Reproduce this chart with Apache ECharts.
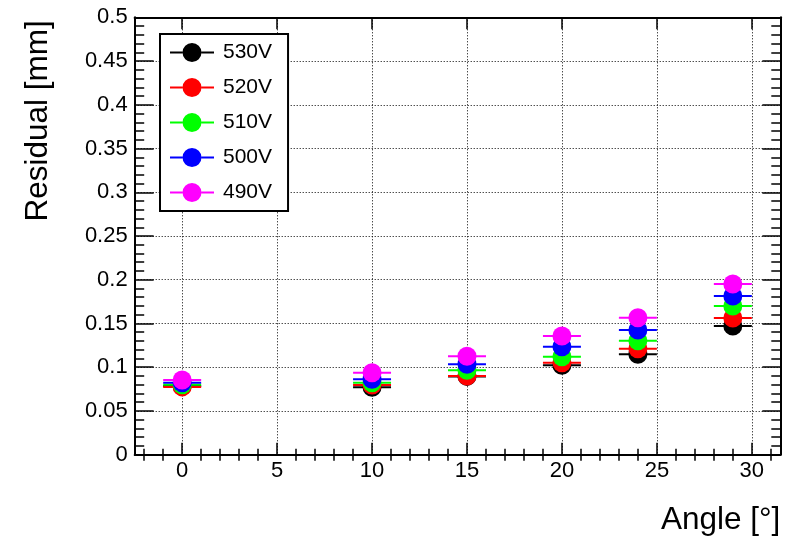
<!DOCTYPE html>
<html>
<head>
<meta charset="utf-8">
<script src="https://cdn.jsdelivr.net/npm/echarts@6/dist/echarts.min.js"></script>
<style>
html, body { margin: 0; padding: 0; background: #ffffff; }
#chart { width: 792px; height: 537px; }
</style>
</head>
<body>
<div id="chart"></div>
<script>
// Beam incidence angles [deg] and their half-width
const angles = [0, 10, 15, 20, 24, 29];
const angleErr = [1, 1, 1, 1, 1, 1];

// Residual [mm] for each drift voltage
const res530 = [0.0785, 0.0770, 0.0895, 0.1022, 0.1148, 0.1471];
const res520 = [0.0775, 0.0797, 0.0900, 0.1052, 0.1212, 0.1563];
const res510 = [0.0800, 0.0823, 0.0965, 0.1120, 0.1303, 0.1700];
const res500 = [0.0823, 0.0862, 0.1033, 0.1235, 0.1425, 0.1814];
const res490 = [0.0854, 0.0937, 0.1125, 0.1357, 0.1566, 0.1951];

const voltages = ['530V', '520V', '510V', '500V', '490V'];
const residuals = [res530, res520, res510, res500, res490];
const colors = ['#000000', '#ff0000', '#00ff00', '#0000ff', '#ff00ff'];

// Axis ticks
const xMajorTicks = [0, 5, 10, 15, 20, 25, 30];
const xMinorTicks = [-2, -1, 1, 2, 3, 4, 6, 7, 8, 9, 11, 12, 13, 14, 16, 17, 18, 19,
                     21, 22, 23, 24, 26, 27, 28, 29, 31];

const FONT = 'Liberation Sans';
const X_MIN = -2.5, X_MAX = 31.5;
const Y_MIN = 0, Y_MAX = 0.5, Y_STEP = 0.05;

// marker with horizontal error bar
function renderPoint(params, api) {
  const x = api.value(0), y = api.value(1), ex = api.value(2);
  const c = api.coord([x, y]);
  const l = api.coord([x - ex, y]);
  const r = api.coord([x + ex, y]);
  const color = api.visual('color');
  return {
    type: 'group',
    children: [
      { type: 'line', shape: { x1: l[0], y1: c[1], x2: r[0], y2: c[1] },
        style: { stroke: color, lineWidth: 2 } },
      { type: 'circle', shape: { cx: c[0], cy: c[1], r: 9.5 },
        style: { fill: color } }
    ]
  };
}

const series = voltages.map((name, k) => ({
  name: name,
  type: 'custom',
  xAxisIndex: 0,
  yAxisIndex: 0,
  itemStyle: { color: colors[k] },
  encode: { x: 0, y: 1 },
  renderItem: renderPoint,
  data: angles.map((a, i) => [a, residuals[k][i], angleErr[i]])
}));

const tickLine = { color: '#000', width: 1.5 };
const frameLine = { color: '#000', width: 2 };
const gridLine = { color: '#000', width: 1, type: [1, 2] };

const option = {
  animation: false,
  backgroundColor: '#ffffff',
  grid: { left: 134.7, right: 11.7, top: 17.3, bottom: 82.3, containLabel: false },
  legend: {
    orient: 'vertical',
    left: 160,
    top: 34,
    padding: [8, 16, 8, 10],
    itemGap: 14,
    itemWidth: 44,
    itemHeight: 20,
    icon: 'path://M0,9L12.5,9L12.5,11L0,11Z M31.5,9L44,9L44,11L31.5,11Z M31.5,10A9.5,9.5,0,1,1,12.5,10A9.5,9.5,0,1,1,31.5,10Z',
    backgroundColor: '#ffffff',
    borderColor: '#000',
    borderWidth: 2,
    borderRadius: 0,
    textStyle: { fontFamily: FONT, fontSize: 21, lineHeight: 20, color: '#000', padding: [0, 0, 0, 4] },
    data: voltages
  },
  xAxis: [
    {
      type: 'value', position: 'bottom', min: X_MIN, max: X_MAX,
      name: 'Angle [°]', nameLocation: 'end', nameGap: 0,
      nameTextStyle: { fontFamily: FONT, fontSize: 31.5, color: '#000',
                       align: 'right', verticalAlign: 'top', padding: [50, 0, 0, 0] },
      axisLine: { show: true, onZero: false, lineStyle: frameLine },
      axisTick: { show: true, inside: true, length: 12, customValues: xMajorTicks, lineStyle: tickLine },
      axisLabel: { show: true, customValues: xMajorTicks, fontFamily: FONT, fontSize: 22, color: '#000', margin: 5 },
      splitLine: { show: true, lineStyle: gridLine }
    },
    {
      type: 'value', position: 'bottom', min: X_MIN, max: X_MAX,
      axisLine: { show: false },
      axisTick: { show: true, inside: true, length: 6, customValues: xMinorTicks, lineStyle: tickLine },
      axisLabel: { show: false },
      splitLine: { show: false }
    },
    {
      type: 'value', position: 'top', min: X_MIN, max: X_MAX,
      axisLine: { show: true, onZero: false, lineStyle: frameLine },
      axisTick: { show: true, inside: true, length: 12, customValues: xMajorTicks, lineStyle: tickLine },
      axisLabel: { show: false },
      splitLine: { show: false }
    },
    {
      type: 'value', position: 'top', min: X_MIN, max: X_MAX,
      axisLine: { show: false },
      axisTick: { show: true, inside: true, length: 6, customValues: xMinorTicks, lineStyle: tickLine },
      axisLabel: { show: false },
      splitLine: { show: false }
    }
  ],
  yAxis: [
    {
      type: 'value', position: 'left', min: Y_MIN, max: Y_MAX, interval: Y_STEP,
      name: 'Residual [mm]', nameLocation: 'end', nameRotate: 90, nameGap: -3,
      nameTextStyle: { fontFamily: FONT, fontSize: 31.5, color: '#000',
                       align: 'right', verticalAlign: 'bottom', padding: [0, 0, 80, 0] },
      axisLine: { show: true, onZero: false, lineStyle: frameLine },
      axisTick: { show: true, inside: true, length: 19, lineStyle: tickLine },
      minorTick: { show: true, splitNumber: 5, length: 9.5, lineStyle: tickLine },
      axisLabel: { show: true, fontFamily: FONT, fontSize: 22, color: '#000', margin: 7 },
      splitLine: { show: true, lineStyle: gridLine }
    },
    {
      type: 'value', position: 'right', min: Y_MIN, max: Y_MAX, interval: Y_STEP,
      axisLine: { show: true, onZero: false, lineStyle: frameLine },
      axisTick: { show: true, inside: true, length: 18, lineStyle: tickLine },
      minorTick: { show: true, splitNumber: 5, length: 9, lineStyle: tickLine },
      axisLabel: { show: false },
      splitLine: { show: false }
    }
  ],
  series: series
};

const chart = echarts.init(document.getElementById('chart'), null, { renderer: 'canvas' });
chart.setOption(option);
</script>
</body>
</html>
